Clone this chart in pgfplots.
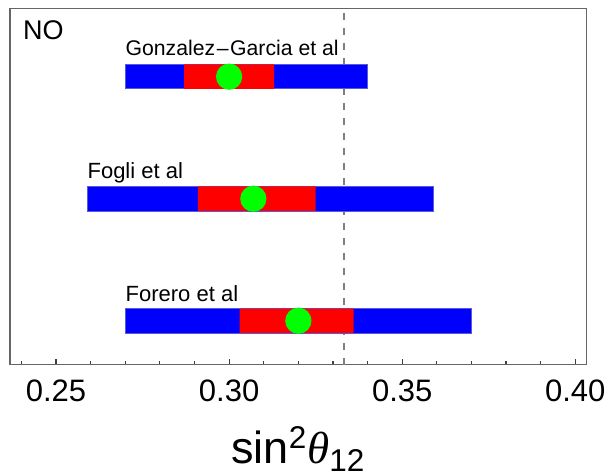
\documentclass[border=0pt]{standalone}
\usepackage{pgfplots}
\pgfplotsset{compat=1.18}
\usepackage{fontspec}
\setmainfont{Liberation Sans}
\newfontfamily\serifit{Liberation Serif}[ItalicFont=* Italic]

\definecolor{barblue}{rgb}{0,0,1}
\definecolor{barred}{rgb}{1,0,0}
\definecolor{dotgreen}{rgb}{0,1,0}
\definecolor{edgeblue}{rgb}{0.35,0.35,0.85}

\begin{document}
\begin{tikzpicture}
\begin{axis}[
    scale only axis,
    width=288.35bp, height=178.2bp,
    xmin=0.2367, xmax=0.4033,
    ymin=0.64, ymax=3.56,
    axis line style={black!60, line width=0.7bp},
    xtick={0.25,0.30,0.35,0.40},
    minor xtick={0.24,0.26,0.27,0.28,0.29,0.31,0.32,0.33,0.34,0.36,0.37,0.38,0.39},
    xtick pos=bottom,
    ytick=\empty,
    tick align=inside,
    major tick length=3bp, minor tick length=2bp,
    tick style={black!75, line width=0.55bp},
    xticklabel style={font=\fontsize{15.5bp}{18bp}\selectfont, anchor=base, yshift=-18.5bp},
    /pgf/number format/assume math mode=true,
    /pgf/number format/fixed, /pgf/number format/fixed zerofill, /pgf/number format/precision=2,
    scaled ticks=false,
    xlabel={sin\textsuperscript{2}{\serifit\itshape θ}\textsubscript{12}},
    xlabel style={at={(axis description cs:0.5,0)}, anchor=base, yshift=-49.3bp,
        font=\fontsize{22.5bp}{26bp}\selectfont},
    clip=false,
]
% vertical reference at 1/3
\addplot[black!50, line width=0.9bp, dash pattern=on 3.25bp off 4.25bp] coordinates {(0.3333,0.64) (0.3333,3.56)};

% Gonzalez-Garcia et al (y=3)
\addplot[fill=barblue, draw=edgeblue, line width=0.4bp] coordinates {(0.270,2.9) (0.340,2.9) (0.340,3.1) (0.270,3.1) (0.270,2.9)};
\addplot[fill=barred, draw=none] coordinates {(0.287,2.9) (0.313,2.9) (0.313,3.1) (0.287,3.1) (0.287,2.9)};
\addplot[only marks, mark=*, mark size=6.35bp, dotgreen, mark options={draw=none, fill=dotgreen}] coordinates {(0.300,3)};

% Fogli et al (y=2)
\addplot[fill=barblue, draw=edgeblue, line width=0.4bp] coordinates {(0.259,1.9) (0.359,1.9) (0.359,2.1) (0.259,2.1) (0.259,1.9)};
\addplot[fill=barred, draw=none] coordinates {(0.291,1.9) (0.325,1.9) (0.325,2.1) (0.291,2.1) (0.291,1.9)};
\addplot[only marks, mark=*, mark size=6.35bp, dotgreen, mark options={draw=none, fill=dotgreen}] coordinates {(0.307,2)};

% Forero et al (y=1)
\addplot[fill=barblue, draw=edgeblue, line width=0.4bp] coordinates {(0.270,0.9) (0.370,0.9) (0.370,1.1) (0.270,1.1) (0.270,0.9)};
\addplot[fill=barred, draw=none] coordinates {(0.303,0.9) (0.336,0.9) (0.336,1.1) (0.303,1.1) (0.303,0.9)};
\addplot[only marks, mark=*, mark size=6.35bp, dotgreen, mark options={draw=none, fill=dotgreen}] coordinates {(0.320,1)};

\node[anchor=base west, inner sep=0, font=\fontsize{10.6bp}{13bp}\selectfont] at (axis cs:0.270,3.176) {Gonzalez\kern0.8bp–\kern0.8bp Garcia et al};
\node[anchor=base west, inner sep=0, font=\fontsize{11bp}{13bp}\selectfont] at (axis cs:0.259,2.168) {Fogli et al};
\node[anchor=base west, inner sep=0, font=\fontsize{11bp}{13bp}\selectfont] at (axis cs:0.270,1.156) {Forero et al};
\node[anchor=base west, inner sep=0, font=\fontsize{13.5bp}{16bp}\selectfont] at ([shift={(6.35bp,-15.85bp)}]rel axis cs:0,1) {NO};

\coordinate (ll) at (rel axis cs:0,0);
\coordinate (ur) at (rel axis cs:1,1);
\end{axis}
\pgfresetboundingbox
\useasboundingbox ([shift={(-5bp,-55.65bp)}]ll) rectangle ([shift={(10.65bp,4.15bp)}]ur);
\end{tikzpicture}
\end{document}
